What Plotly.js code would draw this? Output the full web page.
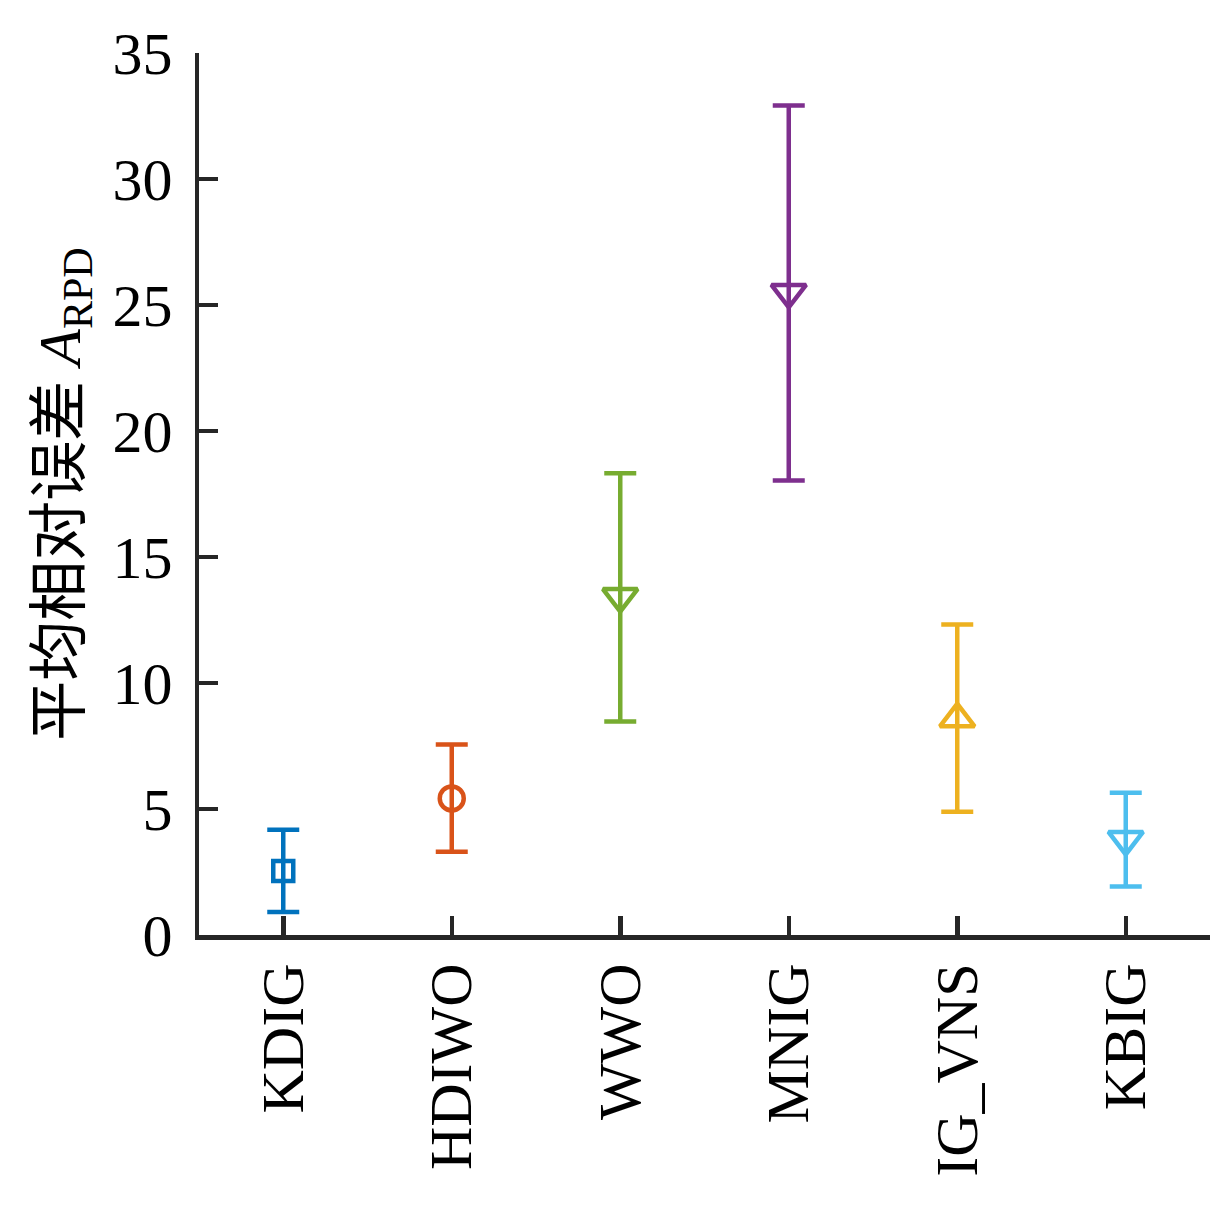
<!DOCTYPE html>
<html>
<head>
<meta charset="utf-8">
<script src="https://cdn.plot.ly/plotly-3.0.1.min.js"></script>
<style>
  html, body { margin: 0; padding: 0; background: #fff; }
  #plot { width: 1213px; height: 1206px; }
</style>
</head>
<body>
<div id="plot"></div>
<script>
// values
var methods = ['KDIG', 'HDIWO', 'WWO', 'MNIG', 'IG_VNS', 'KBIG'];
var mean_rpd = [2.54, 5.42, 13.43, 25.5, 8.58, 3.79];
var upper_rpd = [4.18, 7.56, 18.32, 32.92, 12.32, 5.64];
var lower_rpd = [0.91, 3.30, 8.47, 18.04, 4.89, 1.92];
var colors = ['#0072BD', '#D95319', '#77AC30', '#7E2F8E', '#EDB120', '#4DBEEE'];
var symbols = ['square-open', 'circle-open', 'triangle-down-open', 'triangle-down-open', 'triangle-up-open', 'triangle-down-open'];
var sizes = [20, 24, 30, 30, 30, 30];
var y_ticks = [0, 5, 10, 15, 20, 25, 30, 35];

var serif = 'Liberation Serif, Times New Roman, Noto Sans CJK SC, serif';
var axis_color = '#262626';

var traces = [];
for (var i = 0; i < methods.length; i++) {
   traces.push({
      name: methods[i],
      x: [methods[i]],
      y: [mean_rpd[i]],
      type: 'scatter',
      mode: 'markers',
      marker: {
         symbol: symbols[i],
         size: sizes[i],
         color: colors[i],
         line: {width: 4.5, color: colors[i]}
      },
      error_y: {
         type: 'data',
         symmetric: false,
         array: [upper_rpd[i] - mean_rpd[i]],
         arrayminus: [mean_rpd[i] - lower_rpd[i]],
         color: colors[i],
         thickness: 4.5,
         width: 16
      },
      showlegend: false
   });
}

var layout = {
   width: 1213,
   height: 1206,
   margin: {l: 199, r: 3, t: 53, b: 271},
   paper_bgcolor: '#ffffff',
   plot_bgcolor: '#ffffff',
   font: {family: serif, size: 59, color: '#000000'},
   xaxis: {
      type: 'category',
      categoryorder: 'array',
      categoryarray: methods,
      range: [-0.5, 5.5],
      showgrid: false,
      zeroline: false,
      showline: true,
      linecolor: axis_color,
      linewidth: 4.5,
      ticks: 'inside',
      ticklen: 19,
      tickwidth: 4.5,
      tickcolor: axis_color,
      tickangle: -90,
      ticklabelstandoff: 0,
      tickfont: {family: serif, size: 60, color: '#000000'}
   },
   yaxis: {
      range: [0, 35],
      tickvals: y_ticks,
      showgrid: false,
      zeroline: false,
      showline: true,
      linecolor: axis_color,
      linewidth: 4.5,
      ticks: 'inside',
      ticklen: 19,
      tickwidth: 4.5,
      tickcolor: axis_color,
      ticklabelstandoff: 10,
      tickfont: {family: serif, size: 60, color: '#000000'},
      title: {
         text: '平均相对误差 <i>A</i><sub>RPD</sub>',
         font: {family: serif, size: 60, color: '#000000'},
         standoff: 14
      }
   }
};

Plotly.newPlot('plot', traces, layout, {staticPlot: true, displayModeBar: false});
</script>
</body>
</html>
